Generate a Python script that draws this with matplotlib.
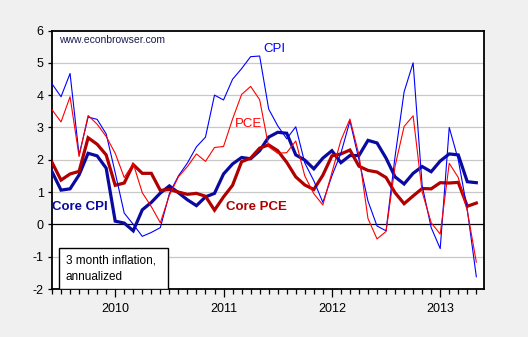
import matplotlib
matplotlib.use("Agg")
import matplotlib.pyplot as plt
from matplotlib.patches import Rectangle
import numpy as np

# Monthly observations, June 2009 .. May 2013 (index 0..47)
months = np.arange(48)
year_labels = ["2010", "2011", "2012", "2013"]
year_pos = [7, 19, 31, 43]

cpi = [4.35, 3.95, 4.67, 2.15, 3.32, 3.25, 2.8, 1.6, 0.35, 0.0,
       -0.37, -0.25, -0.1, 0.95, 1.5, 1.9, 2.4, 2.7, 4.0, 3.85,
       4.49, 4.82, 5.19, 5.21, 3.57, 3.05, 2.65, 3.02, 1.9, 1.35,
       0.68, 1.5, 2.2, 3.2, 2.0, 0.72, -0.05, -0.2, 2.1, 4.1,
       5.0, 1.2, -0.1, -0.75, 3.0, 2.0, 0.45, -1.62]
pce = [3.55, 3.17, 3.95, 2.1, 3.37, 3.1, 2.72, 2.2, 1.45, 1.88,
       0.98, 0.55, 0.05, 0.9, 1.47, 1.79, 2.18, 1.95, 2.38, 2.41,
       3.26, 4.02, 4.27, 3.86, 2.4, 2.2, 2.22, 2.58, 1.5, 0.95,
       0.6, 1.6, 2.6, 3.26, 2.15, 0.18, -0.45, -0.22, 1.8, 3.03,
       3.36, 1.0, 0.05, -0.3, 1.89, 1.45, 0.42, -1.17]
core_cpi = [1.63, 1.06, 1.1, 1.53, 2.2, 2.12, 1.74, 0.1, 0.04, -0.2,
            0.45, 0.68, 0.97, 1.19, 0.98, 0.76, 0.58, 0.85, 0.96, 1.56,
            1.87, 2.07, 2.03, 2.28, 2.7, 2.85, 2.82, 2.15, 1.99, 1.72,
            2.05, 2.28, 1.91, 2.13, 2.13, 2.6, 2.52, 2.05, 1.47, 1.25,
            1.58, 1.79, 1.63, 1.96, 2.18, 2.15, 1.32, 1.29]
core_pce = [1.92, 1.37, 1.56, 1.64, 2.68, 2.48, 2.15, 1.21, 1.28, 1.85,
            1.58, 1.58, 1.05, 1.08, 1.0, 0.93, 0.96, 0.87, 0.44, 0.85,
            1.21, 1.94, 2.05, 2.36, 2.46, 2.28, 1.92, 1.47, 1.22, 1.08,
            1.52, 2.12, 2.18, 2.3, 1.8, 1.67, 1.62, 1.45, 0.98, 0.64,
            0.88, 1.11, 1.1, 1.29, 1.28, 1.3, 0.56, 0.66]

plt.rcParams['font.family'] = ['Liberation Sans', 'DejaVu Sans']

fig = plt.figure(figsize=(5.28, 3.37), dpi=100, facecolor='#F0F0F0')
ax = fig.add_axes([52/528, 1-289/337, (484-52)/528, (289-30.5)/337])
ax.set_facecolor('white')

ax.set_xlim(0, 47.85)
ax.set_ylim(-2, 6)

for yv in range(-1, 6):
    if yv == 0:
        continue
    ax.axhline(yv, color='#C8C8C8', lw=0.9, zorder=1)
ax.axhline(0, color='black', lw=0.9, zorder=2)

ax.plot(months, core_cpi, color='#0A0AA0', lw=2.3, zorder=3, solid_joinstyle='miter')
ax.plot(months, core_pce, color='#B00000', lw=2.3, zorder=3, solid_joinstyle='miter')
ax.plot(months, cpi, color='#0000FF', lw=0.8, zorder=4)
ax.plot(months, pce, color='#FF0000', lw=0.8, zorder=4)

ax.set_yticks(range(-2, 7))
ax.set_yticklabels([str(v) for v in range(-2, 7)])
ax.set_xticks(year_pos)
ax.set_xticklabels(year_labels)
ax.set_xticks(months, minor=True)
ax.tick_params(axis='x', which='major', length=6, width=0.9, direction='out', labelsize=9, pad=4)
ax.tick_params(axis='x', which='minor', length=3.5, width=0.9, direction='out')
ax.tick_params(axis='y', which='major', length=3, width=0.9, direction='out', labelsize=9, pad=3)
for s in ax.spines.values():
    s.set_color('black')
    s.set_linewidth(1.3)

ax.text(0.78, 5.7, "www.econbrowser.com", color='#1A1A50', fontsize=7.5, va='center', ha='left')
ax.text(23.4, 5.43, "CPI", color='#0000FF', fontsize=9.5, va='center', ha='left')
ax.text(20.3, 3.12, "PCE", color='#FF0000', fontsize=9.5, va='center', ha='left')
ax.text(0.05, 0.54, "Core CPI", color='#0A0AA0', fontsize=9.5, va='center', ha='left', fontweight='bold')
ax.text(19.3, 0.54, "Core PCE", color='#B00000', fontsize=9.5, va='center', ha='left', fontweight='bold')

ax.add_patch(Rectangle((0.78, -2), 12.07, 1.27, facecolor='white', edgecolor='black', lw=1.0, zorder=5))
ax.text(1.55, -1.11, "3 month inflation,", fontsize=8.5, va='center', ha='left', zorder=6)
ax.text(1.55, -1.63, "annualized", fontsize=8.5, va='center', ha='left', zorder=6)

fig.savefig("out.png", dpi=100, facecolor=fig.get_facecolor())
